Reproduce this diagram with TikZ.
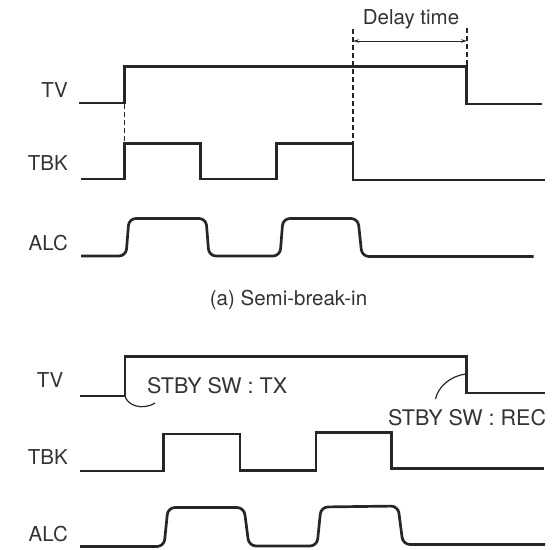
\documentclass[tikz,border=0pt]{standalone}
\usepackage{fontspec}
\setmainfont{TeX Gyre Heros}
\usetikzlibrary{arrows.meta}
\definecolor{ink}{HTML}{262626}
\definecolor{txt}{HTML}{333333}
\tikzset{
  sig/.style={draw=ink, line width=2.7pt, line join=miter},
  alc/.style={sig, rounded corners=7pt},
  guide/.style={draw=ink, line width=1.2pt, dash pattern=on 5pt off 3pt},
  lbl/.style={font=\fontsize{20.5}{22}\selectfont, text=txt, inner sep=0pt},
  swlbl/.style={lbl, font=\fontsize{21.5}{23}\selectfont},
  hook/.style={draw=ink, line width=1.2pt},
}
\begin{document}
\begin{tikzpicture}[x=1pt,y=-1pt]
\useasboundingbox (0,0) rectangle (556,549);
% ---------- (a) ----------
\node[lbl, anchor=east] (tva) at (68,90) {TV};
\node[lbl, anchor=east] (tbka) at (68,163) {TBK};
\node[lbl, anchor=east] (alca) at (68,243) {ALC};
\draw[sig] (79,103) -- (124.5,103) -- (124.5,66.5) -- (466.5,66.5) -- (466.5,104) -- (541.5,104);
\draw[sig] (81,179) -- (124.5,179) -- (124.5,143.5) -- (200.5,143.5) -- (200.5,179) -- (276.5,179) -- (276.5,143.5) -- (353,143.5) -- (353,180) -- (545,180);
\draw[alc] (81,256) -- (126,256) -- (129,218.5) -- (206,218.5) -- (209,256) -- (280,256) -- (283,218.5) -- (358,218.5) -- (362,256.5) -- (533.5,256.5);
\coordinate (d1a) at (124.5,104);
\coordinate (d1b) at (124.5,143);
\coordinate (d2a) at (353,29);
\coordinate (d2b) at (353,143);
\coordinate (d3a) at (467,28);
\coordinate (d3b) at (467,66);
\draw[guide] (d1a) -- (d1b);
\draw[guide] (d2a) -- (d2b);
\draw[guide] (d3a) -- (d3b);
\coordinate (ar1) at (353,41);
\coordinate (ar2) at (467,41);
\draw[draw=ink, line width=0.9pt, {Stealth[length=6pt,width=3.5pt]}-{Stealth[length=6pt,width=3.5pt]}] (ar1) -- (ar2);
\node[lbl] (delay) at (411,19) {Delay time};
\node[lbl] (capa) at (288.5,300) {(a) Semi-break-in};
% ---------- (b) ----------
\node[lbl, anchor=east] (tvb) at (63.5,380.5) {TV};
\node[lbl, anchor=east] (tbkb) at (68,457.5) {TBK};
\node[lbl, anchor=east] (alcb) at (68,534) {ALC};
\draw[sig] (80,396) -- (125,396) -- (125,356.5) -- (466.5,356.5) -- (466.5,393) -- (545,393);
\draw[sig] (80,471) -- (163.5,471) -- (163.5,434) -- (240,434) -- (240,470.5) -- (316,470.5) -- (316,432.5) -- (391.5,432.5) -- (391.5,468.5) -- (543.5,468.5);
\draw[alc] (80,546.5) -- (164,546.5) -- (168,507.5) -- (244,507.5) -- (249,546) -- (317,546) -- (321,507) -- (398,506) -- (403,544.5) -- (545,544.5);
\node[swlbl, anchor=west] (tx) at (147,385.5) {STBY SW : TX};
\node[swlbl, anchor=west] (rec) at (388,417.5) {STBY SW : REC};
\coordinate (hk1) at (125,396);
\coordinate (hk1e) at (155,403);
\draw[hook] (hk1) .. controls (127,405) and (142,411) .. (hk1e);
\coordinate (hk2s) at (435.5,399);
\coordinate (hk2) at (466,374);
\draw[hook] (hk2s) .. controls (438,387) and (450,376) .. (hk2);
\end{tikzpicture}
\end{document}
